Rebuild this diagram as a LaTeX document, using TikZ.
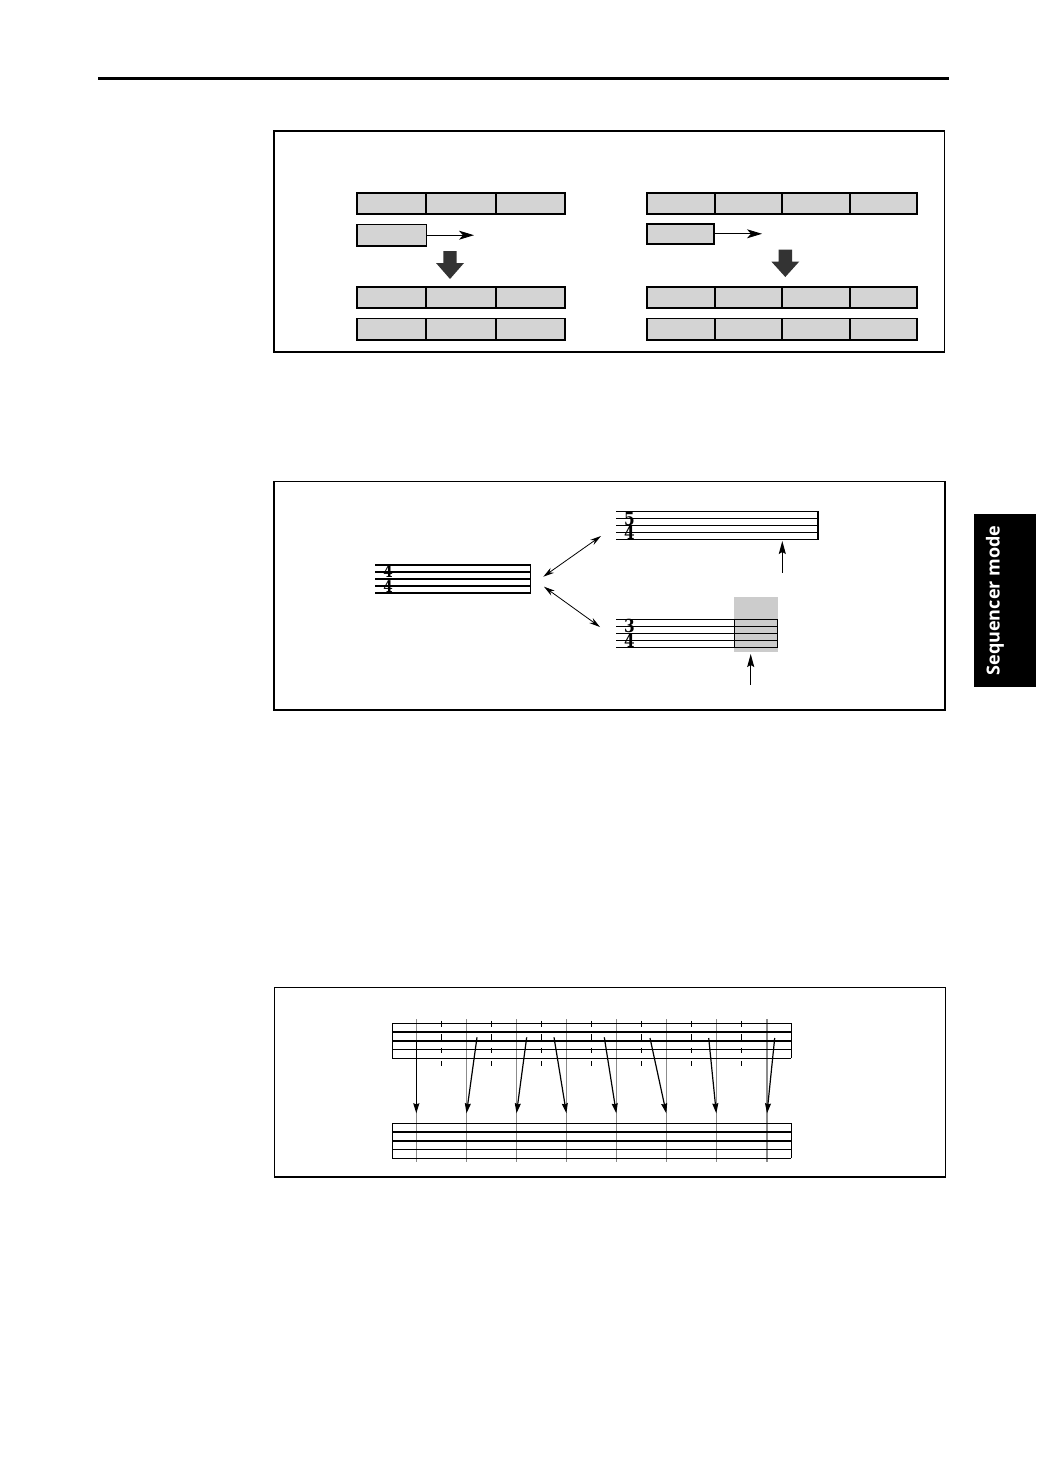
\documentclass[tikz,border=0pt]{standalone}
\usepackage{fontspec}
\newfontfamily\tabfont{Open Sans}
\newfontfamily\sigfont{DejaVu Serif}
\usetikzlibrary{arrows.meta}
\definecolor{barfill}{HTML}{D4D4D4}
\definecolor{fatarrow}{HTML}{333333}
\definecolor{shadegray}{HTML}{CCCCCC}
\definecolor{guide}{HTML}{8C8C8C}
\newcommand{\sigdigit}[1]{\scalebox{0.85}[1]{#1}}
\begin{document}
\begin{tikzpicture}[x=1pt,y=-1pt,
  frame/.style={draw=black,line width=1.4pt},
  cell/.style={draw=black,fill=barfill,line width=1.7pt,inner sep=0pt,outer sep=0pt,minimum height=21.6pt},
  smallarrow/.style={line width=0.9pt,-{Stealth[length=15pt,width=9pt,inset=4pt]}},
  fat/.style={fill=fatarrow},
  staffthick/.style={line width=2pt},
  staffthin/.style={line width=1.4pt},
  dblarrow/.style={line width=0.8pt,{Stealth[length=11pt,width=6pt]}-{Stealth[length=11pt,width=6pt]}},
  uparrow/.style={line width=1pt,-{Stealth[length=13pt,width=7pt,inset=2pt]}},
  digit/.style={inner sep=0pt,font=\sigfont\bfseries\fontsize{16}{16}\selectfont},
  bigdigit/.style={inner sep=0pt,font=\sigfont\bfseries\fontsize{18}{18}\selectfont},
  guideline/.style={draw=guide,line width=1pt},
  tick/.style={line width=1.2pt,dash pattern=on 5.8pt off 7.6pt},
  maparrow/.style={line width=1.2pt,-{Stealth[length=10pt,width=6pt,inset=1pt]}},
  tabtext/.style={rotate=90,text=white,inner sep=0pt,font=\tabfont\bfseries\fontsize{18}{18}\selectfont}
]
\useasboundingbox (0,0) rectangle (1036,1464);

% top rule
\coordinate (ruleL) at (98,78);
\coordinate (ruleR) at (949,78);
\draw[line width=3pt] (ruleL) -- (ruleR);

% side tab
\fill[black] (974,514) rectangle (1036,686.7);
\node[tabtext] (tab) at (995,600.5) {Sequencer mode};

% ---------------- Box 1 ----------------
\draw[frame] (274,130.7) rectangle (944.5,352);
\draw[line width=2.2pt] (274,130.7) -- (944.5,130.7);

% left block
\foreach \r/\y in {a/203.5,c/297.5,d/329.3}{
  \foreach \i in {0,1,2}{
    \node[cell,minimum width=69.33pt] (l\r\i) at ({357+69.33*\i+34.67},\y) {};
  }
}
\node[cell,minimum width=69.3pt] (lmove) at (391.7,235.2) {};
\coordinate (lend) at (474,235.2);
\draw[smallarrow] (lmove.east) -- (lend);
\fill[fat] (443.3,251) -- (456.7,251) -- (456.7,263) -- (464,263) -- (450,279) -- (436,263) -- (443.3,263) -- cycle;

% right block
\foreach \r/\y in {a/203.5,c/297.5,d/329.3}{
  \foreach \i in {0,1,2,3}{
    \node[cell,minimum width=67.5pt] (r\r\i) at ({647.3+67.5*\i+33.75},\y) {};
  }
}
\node[cell,minimum width=67pt,minimum height=20.3pt] (rmove) at (680.8,233.8) {};
\coordinate (rend) at (762,233.8);
\draw[smallarrow] (rmove.east) -- (rend);
\fill[fat] (778.6,249.5) -- (792,249.5) -- (792,261.5) -- (799.3,261.5) -- (785.3,277) -- (771.3,261.5) -- (778.6,261.5) -- cycle;

% ---------------- Box 2 ----------------
\draw[frame] (274,481.3) rectangle (945,710);

% 4/4 staff
\foreach \k in {0,...,4}{
  \draw[staffthick] (375,{564.7+7*\k}) -- (530.5,{564.7+7*\k});
}
\draw[line width=1.5pt] (530.5,564.7) -- (530.5,593);
\node[digit] (ff1) at (388,571.9) {\sigdigit{4}};
\node[digit] (ff2) at (388,586.1) {\sigdigit{4}};

% 5/4 staff
\foreach \k in {0,...,4}{
  \draw[staffthin] (616,{511.7+7*\k}) -- (818,{511.7+7*\k});
}
\draw[line width=2.6pt] (818,511) -- (818,540.4);
\node[bigdigit] (fv1) at (629.5,518.7) {\sigdigit{5}};
\node[bigdigit] (fv2) at (629.5,533.1) {\sigdigit{4}};

% 3/4 staff
\fill[shadegray] (734,597.3) rectangle (778,652);
\foreach \k in {0,...,4}{
  \draw[staffthin] (616,{619.3+7*\k}) -- (777.7,{619.3+7*\k});
}
\draw[line width=1.2pt] (734.3,619.3) -- (734.3,647.3);
\draw[line width=1.2pt] (777.7,619.3) -- (777.7,647.3);
\node[bigdigit] (th1) at (629.5,626.3) {\sigdigit{3}};
\node[bigdigit] (th2) at (629.5,640.7) {\sigdigit{4}};

% double arrows
\coordinate (d1a) at (543.3,576.7);
\coordinate (d1b) at (601,536);
\coordinate (d2a) at (544,586.7);
\coordinate (d2b) at (600,627);
\draw[dblarrow] (d1a) -- (d1b);
\draw[dblarrow] (d2a) -- (d2b);

% up arrows
\coordinate (u1s) at (782.3,572.7);
\coordinate (u1t) at (782.3,541);
\coordinate (u2s) at (750.7,684.7);
\coordinate (u2t) at (750.7,654);
\draw[uparrow] (u1s) -- (u1t);
\draw[uparrow] (u2s) -- (u2t);

% ---------------- Box 3 ----------------
\draw[frame] (274.3,987.3) rectangle (945.5,1177);

% guide lines
\foreach \x in {416.3,466.5,516.5,566.4,616.3,666.3,716.3}{
  \draw[guideline] (\x,1019.3) -- (\x,1161.7);
}
\draw[guideline,line width=2.2pt] (767,1019.3) -- (767,1161.7);

% staves
\foreach \o in {0,100}{
  \foreach \y in {1023.3,1049.3,1058.3}{
    \draw[line width=1.2pt] (392.3,{\y+\o}) -- (791.3,{\y+\o});
  }
  \foreach \y in {1032,1040.7}{
    \draw[line width=2.4pt] (392.3,{\y+\o}) -- (791.3,{\y+\o});
  }
  \draw[line width=1.2pt] (392.3,{1023.3+\o}) -- (392.3,{1058.3+\o});
  \draw[line width=1.2pt] (791.3,{1023.3+\o}) -- (791.3,{1058.3+\o});
}

% beat ticks
\foreach \x in {441.5,491.5,541.5,591.5,641.5,691.5,741.5}{
  \draw[tick] (\x,1020.7) -- (\x,1066);
}

% mapping arrows
\foreach \n/\sx/\sy/\tx in {1/416.3/1040.7/416.3, 2/477/1037.3/466.5, 3/526.7/1037.3/516.5, 4/554/1037.3/566.4, 5/604.3/1037.3/616.3, 6/650/1038/666.3, 7/708.7/1038/716.3, 8/774.7/1038/767}{
  \coordinate (s\n) at (\sx,\sy);
  \coordinate (t\n) at (\tx,1113.3);
  \draw[maparrow] (s\n) -- (t\n);
}
\end{tikzpicture}
\end{document}
